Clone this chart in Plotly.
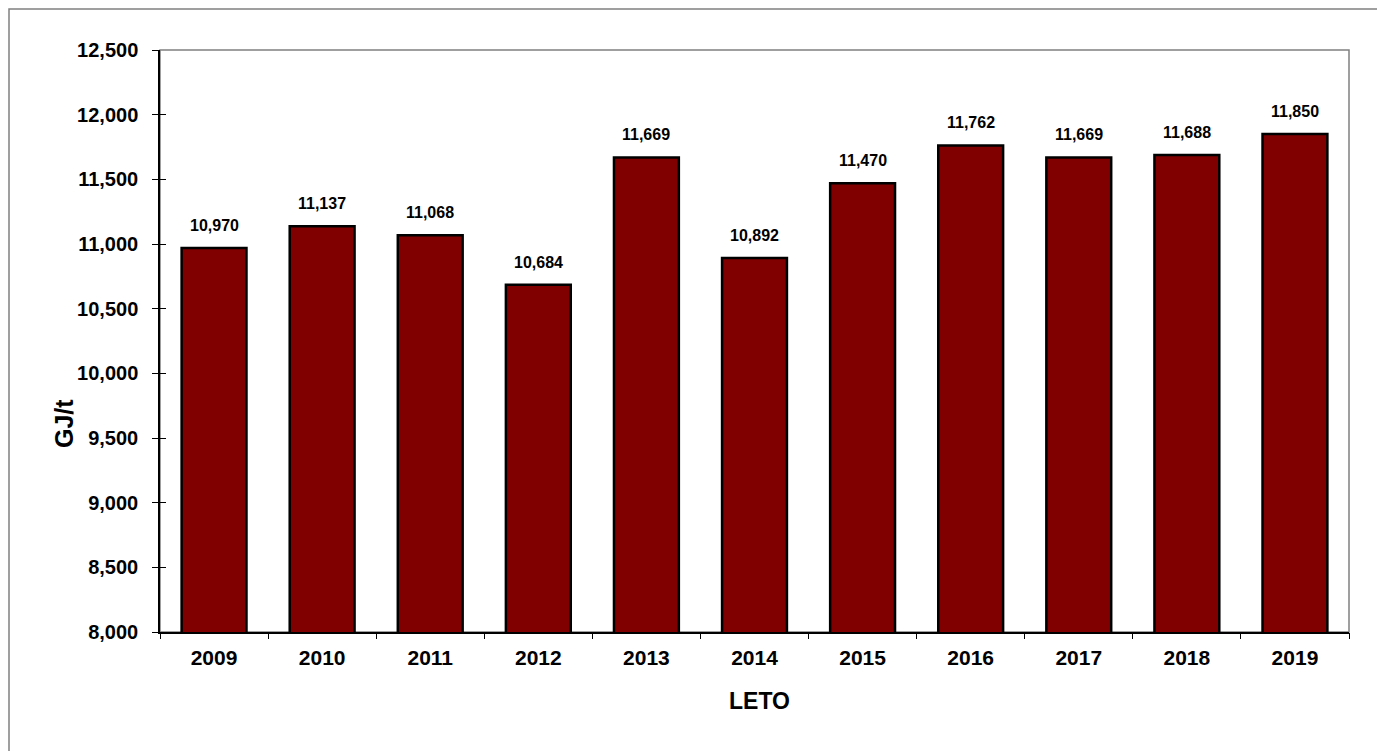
import plotly.graph_objects as go

years = ["2009", "2010", "2011", "2012", "2013", "2014", "2015", "2016", "2017", "2018", "2019"]
values = [10970, 11137, 11068, 10684, 11669, 10892, 11470, 11762, 11669, 11688, 11850]
y_ticks = [8000, 8500, 9000, 9500, 10000, 10500, 11000, 11500, 12000, 12500]

W, H = 1377, 751
ML, MR, MT, MB = 160, 28, 50, 119
pw, ph = W - ML - MR, H - MT - MB
FAM = "Arial, Liberation Sans, sans-serif"

idx = list(range(len(years)))

fig = go.Figure()
fig.add_trace(go.Bar(
    x=idx, y=values, width=0.6,
    marker=dict(color="#800000", line=dict(color="#000000", width=2.5)),
    hovertext=years, hoverinfo="text+y",
))
# invisible trace for the overlaid axes (extra tick marks)
fig.add_trace(go.Scatter(x=[idx[0]], y=[values[0]], xaxis="x2", yaxis="y2", mode="markers",
                         marker=dict(opacity=0), showlegend=False, hoverinfo="skip"))

for i, v in zip(idx, values):
    fig.add_annotation(x=i, y=v, text=f"<b>{v:,}</b>", showarrow=False, yanchor="bottom",
                       xanchor="center", yshift=12, font=dict(family=FAM, size=16, color="#000000"))

# axis titles
fig.add_annotation(xref="paper", yref="paper", x=(64 - ML) / pw, y=1 - (424 - MT) / ph,
                   xanchor="center", yanchor="middle",
                   text="<b>GJ/t</b>", textangle=-90, showarrow=False,
                   font=dict(family=FAM, size=25, color="#000000"))
fig.add_annotation(xref="paper", yref="paper", x=(759 - ML) / pw, y=1 - (701 - MT) / ph,
                   xanchor="center", yanchor="middle",
                   text="<b>LETO</b>", showarrow=False,
                   font=dict(family=FAM, size=23, color="#000000"))

fig.update_layout(
    width=W, height=H,
    margin=dict(l=ML, r=MR, t=MT, b=MB),
    paper_bgcolor="white", plot_bgcolor="white",
    showlegend=False,
    font=dict(family=FAM, size=19, color="#000000"),
    xaxis=dict(
        range=[-0.5, len(years) - 0.5],
        tickvals=idx, ticktext=[f"<b>{y}</b>" for y in years],
        ticks="", showline=True, linecolor="#000000", linewidth=1.5, showgrid=False, zeroline=False,
        tickfont=dict(family=FAM, size=21, color="#000000"),
        ticklabelstandoff=6,
        automargin=False,
    ),
    xaxis2=dict(
        overlaying="x", range=[-0.5, len(years) - 0.5],
        tickvals=[i - 0.5 for i in idx] + [len(years) - 0.5],
        ticks="outside", ticklen=6, tickcolor="#000000", showticklabels=False,
        showline=False, showgrid=False, zeroline=False, side="bottom",
    ),
    yaxis=dict(
        range=[8000, 12500], tickvals=y_ticks, ticktext=[f"<b>{t:,}</b>" for t in y_ticks],
        ticks="outside", ticklen=6, tickcolor="#000000",
        showline=True, linecolor="#000000", linewidth=1.5, showgrid=False, zeroline=False,
        tickfont=dict(family=FAM, size=20, color="#000000"),
        ticklabelstandoff=10,
        automargin=False,
    ),
    yaxis2=dict(
        overlaying="y", side="left", range=[8000, 12500], tickvals=y_ticks,
        ticks="inside", ticklen=6, tickcolor="#000000", showticklabels=False,
        showline=False, showgrid=False, zeroline=False,
    ),
)

# plot frame (top/right in gray)
fig.add_shape(type="rect", xref="paper", yref="paper", x0=0, x1=1, y0=0, y1=1,
              line=dict(color="#808080", width=1.5), layer="below")
# outer chart border
bx0 = (9 - ML) / pw
by1 = 1 + (MT - 9) / ph
fig.add_shape(type="rect", xref="paper", yref="paper", x0=bx0, x1=1 + (MR + 20) / pw,
              y0=-(MB + 20) / ph, y1=by1, line=dict(color="#808080", width=1.5), layer="below")

fig.write_html("out.html")
